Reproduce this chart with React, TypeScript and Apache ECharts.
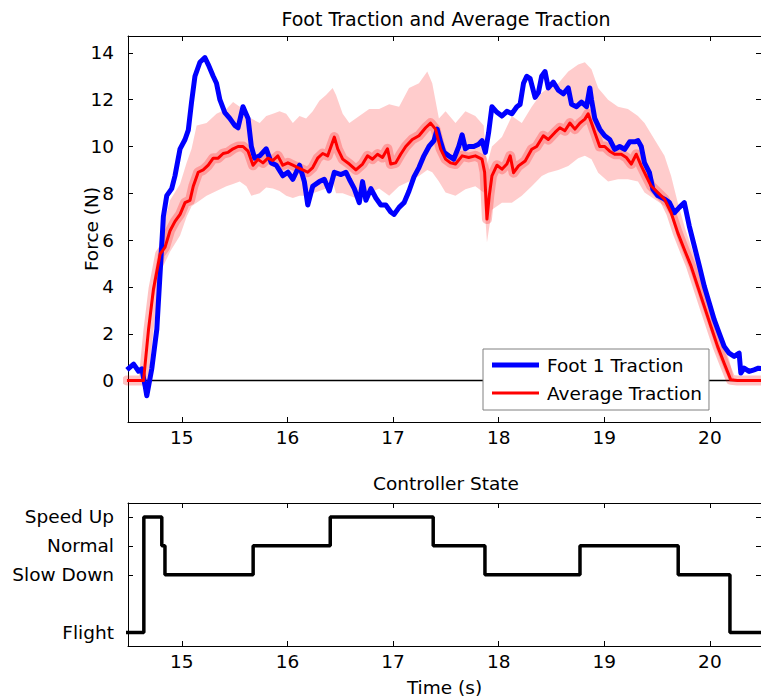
import { useEffect, useRef } from 'react';
import * as echarts from 'echarts';

// ---- data ----
const timeTicks = [15, 16, 17, 18, 19, 20];
const forceTicks = [0, 2, 4, 6, 8, 10, 12, 14];
const stateTicks = [0, 2, 3, 4];
const stateNames = ['Flight', 'Slow Down', 'Normal', 'Speed Up'];

const footTime = [
  14.48, 14.543, 14.59, 14.621, 14.653, 14.668, 14.715, 14.763, 14.794, 14.825, 14.857, 14.904, 14.935, 14.983,
  15.03, 15.061, 15.092, 15.124, 15.171, 15.218, 15.25, 15.297, 15.328, 15.36, 15.407, 15.454, 15.501, 15.532,
  15.579, 15.627, 15.658, 15.689, 15.737, 15.799, 15.847, 15.894, 15.956, 16.004, 16.051, 16.114, 16.16, 16.192,
  16.239, 16.302, 16.349, 16.396, 16.444, 16.507, 16.554, 16.586, 16.633, 16.68, 16.711, 16.743, 16.79, 16.837,
  16.884, 16.931, 16.978, 17.01, 17.057, 17.104, 17.151, 17.198, 17.245, 17.292, 17.34, 17.387, 17.418, 17.45,
  17.481, 17.528, 17.575, 17.622, 17.654, 17.685, 17.716, 17.764, 17.811, 17.842, 17.874, 17.905, 17.936, 17.984,
  18.031, 18.078, 18.125, 18.172, 18.203, 18.235, 18.266, 18.298, 18.345, 18.376, 18.407, 18.439, 18.47, 18.517,
  18.565, 18.612, 18.659, 18.69, 18.737, 18.784, 18.832, 18.863, 18.879, 18.91, 18.957, 19.004, 19.051, 19.099,
  19.146, 19.193, 19.24, 19.287, 19.319, 19.35, 19.381, 19.428, 19.46, 19.507, 19.57, 19.617, 19.664, 19.711,
  19.758, 19.805, 19.853, 19.9, 19.947, 19.994, 20.041, 20.088, 20.135, 20.182, 20.23, 20.277, 20.293, 20.324,
  20.371, 20.418, 20.459, 20.5,
];
const footForce = [
  0.46, 0.7, 0.4, 0.5, -0.25, -0.65, 0.5, 2.2, 4.6, 7.0, 7.9, 8.2, 8.75, 9.9,
  10.3, 10.7, 11.9, 13.0, 13.6, 13.8, 13.5, 13.0, 12.7, 12.0, 11.45, 11.2, 10.9, 10.8,
  11.7, 11.2, 10.0, 9.5, 9.6, 9.9, 9.3, 9.2, 8.75, 8.9, 8.6, 9.2, 8.5, 7.5,
  8.3, 8.5, 8.6, 8.1, 8.9, 8.8, 8.9, 8.6, 8.2, 7.6, 8.5, 7.7, 8.2, 7.8,
  7.5, 7.5, 7.2, 7.1, 7.4, 7.6, 8.1, 8.7, 9.1, 9.6, 10.0, 10.25, 10.74, 10.2,
  9.75, 9.6, 9.46, 10.0, 10.5, 9.9, 10.0, 10.0, 10.1, 10.25, 9.75, 10.6, 11.7, 11.46,
  11.3, 11.5, 11.4, 11.7, 11.8, 12.7, 13.0, 12.9, 12.1, 12.3, 13.0, 13.2, 12.5, 12.75,
  12.4, 12.25, 12.5, 11.8, 11.7, 11.9, 11.7, 12.5, 12.0, 11.2, 10.74, 10.46, 10.3, 9.88,
  10.0, 9.88, 10.2, 10.2, 10.25, 10.0, 9.3, 8.88, 8.17, 7.9, 7.75, 7.6, 7.17, 7.4,
  7.6, 6.6, 5.74, 4.9, 4.03, 3.32, 2.6, 2.03, 1.46, 1.17, 1.03, 1.17, 0.32, 0.53,
  0.39, 0.46, 0.53, 0.5,
];

const avgTime = [
  14.48, 14.637, 14.684, 14.731, 14.794, 14.841, 14.888, 14.935, 14.983, 15.03, 15.077, 15.108, 15.155, 15.202,
  15.25, 15.297, 15.344, 15.391, 15.438, 15.485, 15.532, 15.579, 15.627, 15.674, 15.721, 15.768, 15.815, 15.862,
  15.909, 15.956, 16.004, 16.051, 16.098, 16.145, 16.192, 16.239, 16.286, 16.334, 16.381, 16.444, 16.476, 16.523,
  16.586, 16.648, 16.711, 16.758, 16.805, 16.853, 16.9, 16.947, 16.978, 17.025, 17.072, 17.12, 17.182, 17.245,
  17.308, 17.355, 17.402, 17.45, 17.497, 17.544, 17.591, 17.654, 17.716, 17.779, 17.842, 17.867, 17.889, 17.911,
  17.936, 17.984, 18.031, 18.078, 18.109, 18.141, 18.188, 18.251, 18.313, 18.36, 18.423, 18.47, 18.533, 18.58,
  18.627, 18.674, 18.722, 18.769, 18.816, 18.847, 18.879, 18.91, 18.957, 19.004, 19.051, 19.099, 19.161, 19.209,
  19.256, 19.303, 19.35, 19.397, 19.444, 19.507, 19.57, 19.633, 19.696, 19.758, 19.821, 19.884, 19.947, 20.01,
  20.073, 20.135, 20.198, 20.26, 20.5,
];
const avgForce = [
  0, 0, 2.17, 3.9, 5.4, 5.7, 6.4, 6.8, 7.1, 7.6, 7.7, 8.3, 8.9, 9.0,
  9.2, 9.5, 9.5, 9.7, 9.75, 9.9, 10.0, 10.0, 9.8, 9.2, 9.45, 9.3, 9.5, 9.4,
  9.6, 9.2, 9.3, 9.2, 9.1, 9.0, 8.9, 9.1, 9.5, 9.7, 9.6, 10.4, 9.9, 9.46,
  9.25, 9.0, 9.25, 9.6, 9.46, 9.67, 9.53, 9.9, 9.25, 9.3, 9.67, 10.0, 10.3, 10.46,
  10.8, 11.0, 10.74, 9.9, 9.46, 9.3, 9.25, 9.6, 9.53, 9.6, 9.46, 8.9, 6.9, 7.9,
  8.74, 9.2, 9.03, 9.25, 9.6, 8.88, 9.17, 9.38, 9.88, 10.0, 10.46, 10.3, 10.6, 10.8,
  10.67, 11.0, 10.74, 11.0, 11.17, 11.4, 11.0, 10.6, 10.0, 10.0, 9.8, 9.67, 9.67, 9.53,
  9.25, 9.67, 9.17, 8.74, 8.31, 8.03, 7.75, 7.17, 6.31, 5.6, 4.9, 4.03, 3.17, 2.31,
  1.46, 0.74, 0.03, 0, 0,
];

const bandTime = [
  14.48, 14.637, 14.684, 14.731, 14.794, 14.825, 14.888, 14.983, 15.045, 15.092, 15.14, 15.234, 15.328, 15.422,
  15.485, 15.548, 15.611, 15.658, 15.737, 15.799, 15.862, 15.925, 15.988, 16.051, 16.114, 16.176, 16.239, 16.302,
  16.365, 16.428, 16.46, 16.523, 16.586, 16.68, 16.774, 16.868, 16.963, 17.057, 17.151, 17.245, 17.324, 17.371,
  17.434, 17.497, 17.591, 17.685, 17.779, 17.858, 17.889, 17.936, 18.031, 18.125, 18.219, 18.313, 18.408, 18.47,
  18.565, 18.659, 18.753, 18.816, 18.879, 18.942, 19.036, 19.13, 19.224, 19.319, 19.381, 19.476, 19.57, 19.633,
  19.696, 19.758, 19.821, 19.884, 19.947, 20.01, 20.073, 20.135, 20.183, 20.23, 20.5,
];
const bandHigh = [
  0, 0, 2.5, 4.3, 6.0, 6.6, 7.7, 8.4, 9.3, 9.9, 10.9, 11.0, 11.4, 11.6,
  11.9, 11.7, 11.3, 11.2, 11.0, 11.3, 11.4, 11.5, 11.4, 11.0, 11.3, 11.2, 11.5, 11.95,
  12.2, 12.5, 12.2, 11.4, 11.0, 11.3, 11.6, 11.6, 11.8, 11.7, 12.5, 12.7, 13.2, 12.7,
  11.2, 11.5, 11.0, 11.5, 11.3, 10.9, 9.2, 10.0, 10.4, 11.3, 11.0, 11.7, 12.3, 12.5,
  12.7, 13.2, 13.5, 13.6, 13.3, 12.5, 12.0, 11.7, 11.6, 11.3, 11.0, 10.3, 9.6, 8.74,
  7.6, 6.6, 5.74, 4.9, 4.0, 3.17, 2.3, 1.46, 0.9, 0, 0,
];
const bandLow = [
  0, 0, 1.9, 3.5, 4.8, 4.9, 5.5, 6.2, 7.0, 7.45, 7.6, 7.9, 8.1, 8.3,
  8.4, 8.5, 8.3, 7.9, 8.0, 8.25, 8.2, 8.1, 7.9, 7.8, 7.9, 7.9, 8.0, 8.1,
  8.2, 8.5, 8.0, 8.0, 7.9, 7.75, 8.0, 8.2, 7.9, 8.3, 8.5, 8.74, 9.0, 8.9,
  8.5, 8.03, 7.9, 8.17, 8.3, 8.03, 5.9, 7.3, 7.6, 7.6, 7.9, 8.3, 8.74, 8.88,
  9.0, 9.17, 9.5, 9.6, 9.46, 8.88, 8.5, 8.6, 8.6, 8.5, 8.03, 7.75, 7.46, 7.0,
  6.03, 5.3, 4.6, 3.74, 2.88, 2.03, 1.17, 0.46, 0, 0, 0,
];

// controller state: value held from each time until the next one
const stateTime = [14.45, 14.64, 14.81, 14.84, 15.675, 16.405, 17.38, 17.87, 18.77, 19.7, 20.19, 20.5];
const stateValue = [0, 4, 3, 2, 3, 4, 3, 2, 3, 2, 0, 0];

const FONT = 'DejaVu Sans';
const FS = 18.5;
const X_MIN = 14.49;
const X_MAX = 20.484;

function pairs(xs: number[], ys: number[]) {
  return xs.map((x, i) => [x, ys[i]]);
}

function xAxisDef(grid: number, top: boolean, name?: string) {
  return {
    type: 'value',
    gridIndex: grid,
    min: X_MIN,
    max: X_MAX,
    position: top ? 'top' : 'bottom',
    name: name,
    nameLocation: 'middle',
    nameGap: 32,
    nameTextStyle: { fontFamily: FONT, fontSize: FS, color: '#000' },
    axisLine: { show: true, onZero: false, lineStyle: { color: '#000', width: 1 } },
    axisTick: { show: true, inside: true, length: 5, customValues: timeTicks, lineStyle: { color: '#000', width: 1 } },
    axisLabel: {
      show: !top,
      customValues: timeTicks,
      fontFamily: FONT,
      fontSize: FS,
      color: '#000',
      margin: 6,
    },
    splitLine: { show: false },
  };
}

function yAxisDef(grid: number, right: boolean, min: number, max: number, ticks: number[], extra: any = {}) {
  return {
    type: 'value',
    gridIndex: grid,
    min,
    max,
    position: right ? 'right' : 'left',
    axisLine: { show: true, onZero: false, lineStyle: { color: '#000', width: 1 } },
    axisTick: { show: true, inside: true, length: 5, customValues: ticks, lineStyle: { color: '#000', width: 1 } },
    axisLabel: {
      show: !right,
      customValues: ticks,
      fontFamily: FONT,
      fontSize: FS,
      color: '#000',
      margin: 14,
      formatter: extra.formatter,
    },
    splitLine: { show: false },
    name: extra.name,
    nameLocation: 'middle',
    nameGap: extra.nameGap,
    nameMoveOverlap: false,
    nameTextStyle: { fontFamily: FONT, fontSize: FS, color: '#000' },
  };
}

export default function App() {
  const ref = useRef<HTMLDivElement>(null);

  useEffect(() => {
    if (!ref.current) return;
    const chart = echarts.init(ref.current, null, { renderer: 'svg' });

    const option: any = {
      animation: false,
      backgroundColor: '#ffffff',
      textStyle: { fontFamily: FONT },
      title: [
        {
          text: 'Foot Traction and Average Traction',
          left: 446,
          top: 9,
          textAlign: 'center',
          padding: 0,
          textStyle: { fontFamily: FONT, fontSize: 19, fontWeight: 'normal', color: '#000' },
        },
        {
          text: 'Controller State',
          left: 446,
          top: 474,
          textAlign: 'center',
          padding: 0,
          textStyle: { fontFamily: FONT, fontSize: FS, fontWeight: 'normal', color: '#000' },
        },
      ],
      grid: [
        { left: 128, top: 36, width: 636, height: 386 },
        { left: 128, top: 503, width: 636, height: 143 },
      ],
      xAxis: [
        xAxisDef(0, false),
        xAxisDef(0, true),
        xAxisDef(1, false, 'Time (s)'),
        xAxisDef(1, true),
      ],
      yAxis: [
        yAxisDef(0, false, -1.77, 14.72, forceTicks, { name: 'Force (N)', nameGap: 27 }),
        yAxisDef(0, true, -1.77, 14.72, forceTicks),
        yAxisDef(1, false, -0.465, 4.483, stateTicks, {
          formatter: (v: number) => {
            const i = stateTicks.indexOf(Math.round(v));
            return i >= 0 ? stateNames[i] : '';
          },
        }),
        yAxisDef(1, true, -0.465, 4.483, stateTicks),
      ],
      legend: {
        data: [
          { name: 'Foot 1 Traction', icon: 'path://M0 0H47V5H0Z' },
          { name: 'Average Traction', icon: 'path://M0 0H47V3H0Z' },
        ],
        orient: 'vertical',
        left: 483,
        top: 349,
        padding: [6, 7, 7, 9],
        itemWidth: 47,
        itemHeight: 5,
        itemGap: 8,
        backgroundColor: '#ffffff',
        borderColor: '#808080',
        borderWidth: 1,
        borderRadius: 0,
        selectedMode: false,
        textStyle: { fontFamily: FONT, fontSize: FS, lineHeight: 20, color: '#000', padding: [0, 0, 0, 3] },
        z: 10,
      },
      series: [
        {
          type: 'custom',
          name: 'band',
          xAxisIndex: 0,
          yAxisIndex: 0,
          clip: true,
          silent: true,
          data: [[bandTime[0], 0]],
          encode: { x: 0, y: 1 },
          z: 1,
          renderItem: (_params: any, api: any) => {
            const pts: number[][] = [];
            for (let i = 0; i < bandTime.length; i++) pts.push(api.coord([bandTime[i], bandHigh[i]]));
            for (let i = bandTime.length - 1; i >= 0; i--) pts.push(api.coord([bandTime[i], bandLow[i]]));
            return {
              type: 'polygon',
              shape: { points: pts },
              style: { fill: 'rgba(255,0,0,0.2)', stroke: null },
            };
          },
        },
        {
          type: 'line',
          name: 'zero',
          xAxisIndex: 0,
          yAxisIndex: 0,
          data: [[X_MIN, 0], [X_MAX, 0]],
          symbol: 'none',
          silent: true,
          lineStyle: { color: '#000', width: 1.6 },
          z: 2,
        },
        {
          type: 'line',
          name: 'avgHalo',
          xAxisIndex: 0,
          yAxisIndex: 0,
          data: pairs(avgTime, avgForce),
          symbol: 'none',
          silent: true,
          lineStyle: { color: 'rgba(255,0,0,0.24)', width: 10, join: 'round', cap: 'round' },
          z: 3,
        },
        {
          type: 'line',
          name: 'Foot 1 Traction',
          xAxisIndex: 0,
          yAxisIndex: 0,
          data: pairs(footTime, footForce),
          symbol: 'none',
          color: '#0000ff',
          lineStyle: { color: '#0000ff', width: 5, join: 'round' },
          z: 4,
        },
        {
          type: 'line',
          name: 'Average Traction',
          xAxisIndex: 0,
          yAxisIndex: 0,
          data: pairs(avgTime, avgForce),
          symbol: 'none',
          color: '#ff0000',
          lineStyle: { color: '#ff0000', width: 3, join: 'round' },
          z: 5,
        },
        {
          type: 'line',
          name: 'state',
          xAxisIndex: 2,
          yAxisIndex: 2,
          step: 'end',
          data: pairs(stateTime, stateValue),
          symbol: 'none',
          lineStyle: { color: '#000', width: 3.5 },
          z: 4,
        },
      ],
    };

    chart.setOption(option);
    return () => chart.dispose();
  }, []);

  return (
    <div
      ref={ref}
      style={{ position: 'fixed', left: 0, top: 0, width: 761, height: 700, background: '#fff' }}
    />
  );
}
